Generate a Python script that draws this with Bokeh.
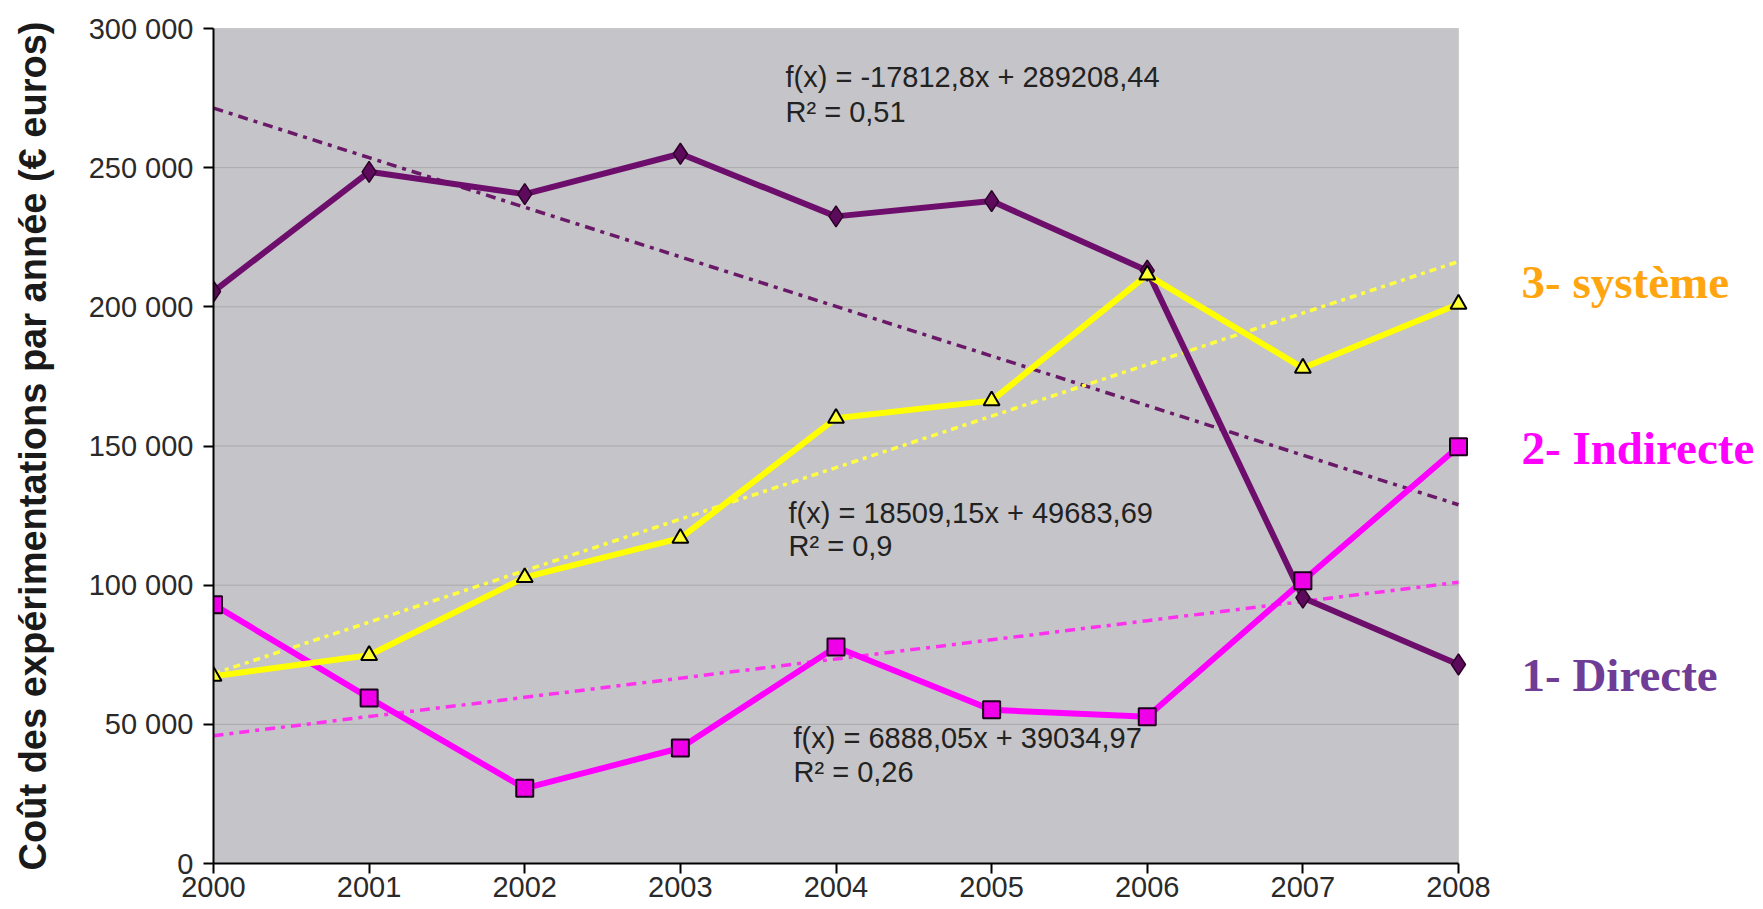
from bokeh.plotting import figure
from bokeh.models import Range1d, FixedTicker, Label, BoxAnnotation
from bokeh.embed import file_html
from bokeh.resources import INLINE

# ---- data ----
years = [2000, 2001, 2002, 2003, 2004, 2005, 2006, 2007, 2008]
year_labels = ["2000", "2001", "2002", "2003", "2004", "2005", "2006", "2007", "2008"]
directe = [205500, 248500, 240500, 255000, 232500, 238000, 213000, 95500, 71500]
indirecte = [93000, 59500, 27000, 41500, 77800, 55200, 52700, 101600, 149700]
systeme = [67300, 74800, 102800, 116900, 160000, 166300, 211500, 178000, 201000]
y_ticks = [0, 50000, 100000, 150000, 200000, 250000, 300000]
y_tick_labels = ["0", "50 000", "100 000", "150 000", "200 000", "250 000", "300 000"]

# trend lines f(x) = a*x + b (x = 1..9), as printed on the chart
trend_directe = (-17812.8, 289208.44)
trend_systeme = (18509.15, 49683.69)
trend_indirecte = (6888.05, 39034.97)
eq_directe = ["f(x) = -17812,8x + 289208,44", "R² = 0,51"]
eq_systeme = ["f(x) = 18509,15x + 49683,69", "R² = 0,9"]
eq_indirecte = ["f(x) = 6888,05x + 39034,97", "R² = 0,26"]
series_names = ["1- Directe", "2- Indirecte", "3- système"]

# ---- layout helpers (page pixel -> data) ----
W, H = 1763, 909
FL, FR, FT, FB = 213, 1458, 28, 863       # plot area in page pixels
X0, X1, Y0, Y1 = years[0], years[-1], y_ticks[0], y_ticks[-1]
def dx(px):
    return X0 + (px - FL) * (X1 - X0) / (FR - FL)
def dy(py):
    return Y0 + (FB - py) * (Y1 - Y0) / (FB - FT)

p = figure(width=W, height=H, output_backend="svg", toolbar_location=None,
           x_range=Range1d(X0, dx(W)), y_range=Range1d(Y0, Y1),
           min_border_left=FL, min_border_right=0,
           min_border_top=FT, min_border_bottom=H - FB)

p.background_fill_color = "white"
p.border_fill_color = "white"
p.outline_line_color = None
p.xgrid.grid_line_color = None
p.ygrid.grid_line_color = None

# grey plot area (2000..2008 x 0..300000) with thin grey border
p.add_layout(BoxAnnotation(left=X0, right=X1, bottom=Y0, top=Y1, level="underlay",
                           fill_color="#c5c4c8", fill_alpha=1.0,
                           line_color="#9a9a9a", line_width=1))
# horizontal grid lines, only across the plot area
p.segment(x0=[X0] * len(y_ticks), x1=[X1] * len(y_ticks), y0=y_ticks, y1=y_ticks,
          line_color="#a9a9ab", line_width=1)

p.xaxis.ticker = FixedTicker(ticks=years)
p.xaxis.major_label_overrides = {y: l for y, l in zip(years, year_labels)}
p.xaxis.bounds = (X0, X1)
p.yaxis.ticker = FixedTicker(ticks=y_ticks)
p.yaxis.major_label_overrides = {v: l for v, l in zip(y_ticks, y_tick_labels)}
for ax in (p.xaxis, p.yaxis):
    ax.axis_line_color = "black"
    ax.axis_line_width = 2
    ax.major_tick_line_color = "black"
    ax.major_tick_line_width = 2
    ax.major_tick_in = 0
    ax.major_tick_out = 10
    ax.minor_tick_line_color = None
    ax.major_label_text_font = "Liberation Sans"
    ax.major_label_text_color = "#2a2a2a"
p.xaxis.major_label_standoff = 3
p.xaxis.major_label_text_font_size = "29px"
p.yaxis.major_label_standoff = 10
p.yaxis.major_label_text_font_size = "29px"
p.yaxis.axis_label = "Coût des expérimentations par année (€ euros)"
p.yaxis.axis_label_text_font = "Liberation Sans"
p.yaxis.axis_label_text_font_style = "bold"
p.yaxis.axis_label_text_font_size = "38px"
p.yaxis.axis_label_text_color = "#1a1a1a"
p.yaxis.axis_label_standoff = 32

# ---- trend lines ----
idx = [i + 1 for i in range(len(years))]
def trend(c):
    return [c[0] * i + c[1] for i in idx]
p.line(years, trend(trend_directe), line_color="#6a1868", line_width=3.5, line_dash="10 6 4 6")
p.line(years, trend(trend_indirecte), line_color="#ff30f0", line_width=3.5, line_dash="10 6 4 6")
p.line(years, trend(trend_systeme), line_color="#ffff40", line_width=3.5, line_dash="7 5 4 5")

# ---- series ----
p.line(years, directe, line_color="#6e0e6c", line_width=6)
p.scatter(years, directe, marker="diamond", size=21, fill_color="#5e0a5c",
          line_color="#2a0028", line_width=1.5)
p.line(years, indirecte, line_color="#ff00ff", line_width=6)
p.scatter(years, indirecte, marker="square", size=17, fill_color="#f000e8",
          line_color="#1a001a", line_width=2)
p.line(years, systeme, line_color="#ffff00", line_width=6)
p.scatter(years, systeme, marker="triangle", size=16, fill_color="#ffff30",
          line_color="black", line_width=2)

# ---- equation labels (y = vertical centre of the text line, page px) ----
def eq(lines, px, c1, c2):
    for t, c in zip(lines, (c1, c2)):
        p.add_layout(Label(x=dx(px), y=dy(c), text=t, text_font="Liberation Sans",
                           text_font_size="29px", text_color="#222222",
                           text_baseline="middle", text_align="left"))
eq(eq_directe, 785, 76, 111)
eq(eq_systeme, 788, 512, 545)
eq(eq_indirecte, 793, 737, 771)

# ---- series names to the right of the plot area ----
name_colors = ["#6f3c96", "#ff00ff", "#ffa50f"]
name_centers = [674, 447, 281]
for n, c, b in zip(series_names, name_colors, name_centers):
    p.add_layout(Label(x=dx(1521), y=dy(b), text=n, text_font="Liberation Serif",
                       text_font_style="bold", text_font_size="47px", text_color=c,
                       text_baseline="middle", text_align="left"))

open("out.html", "w").write(file_html(p, INLINE))
